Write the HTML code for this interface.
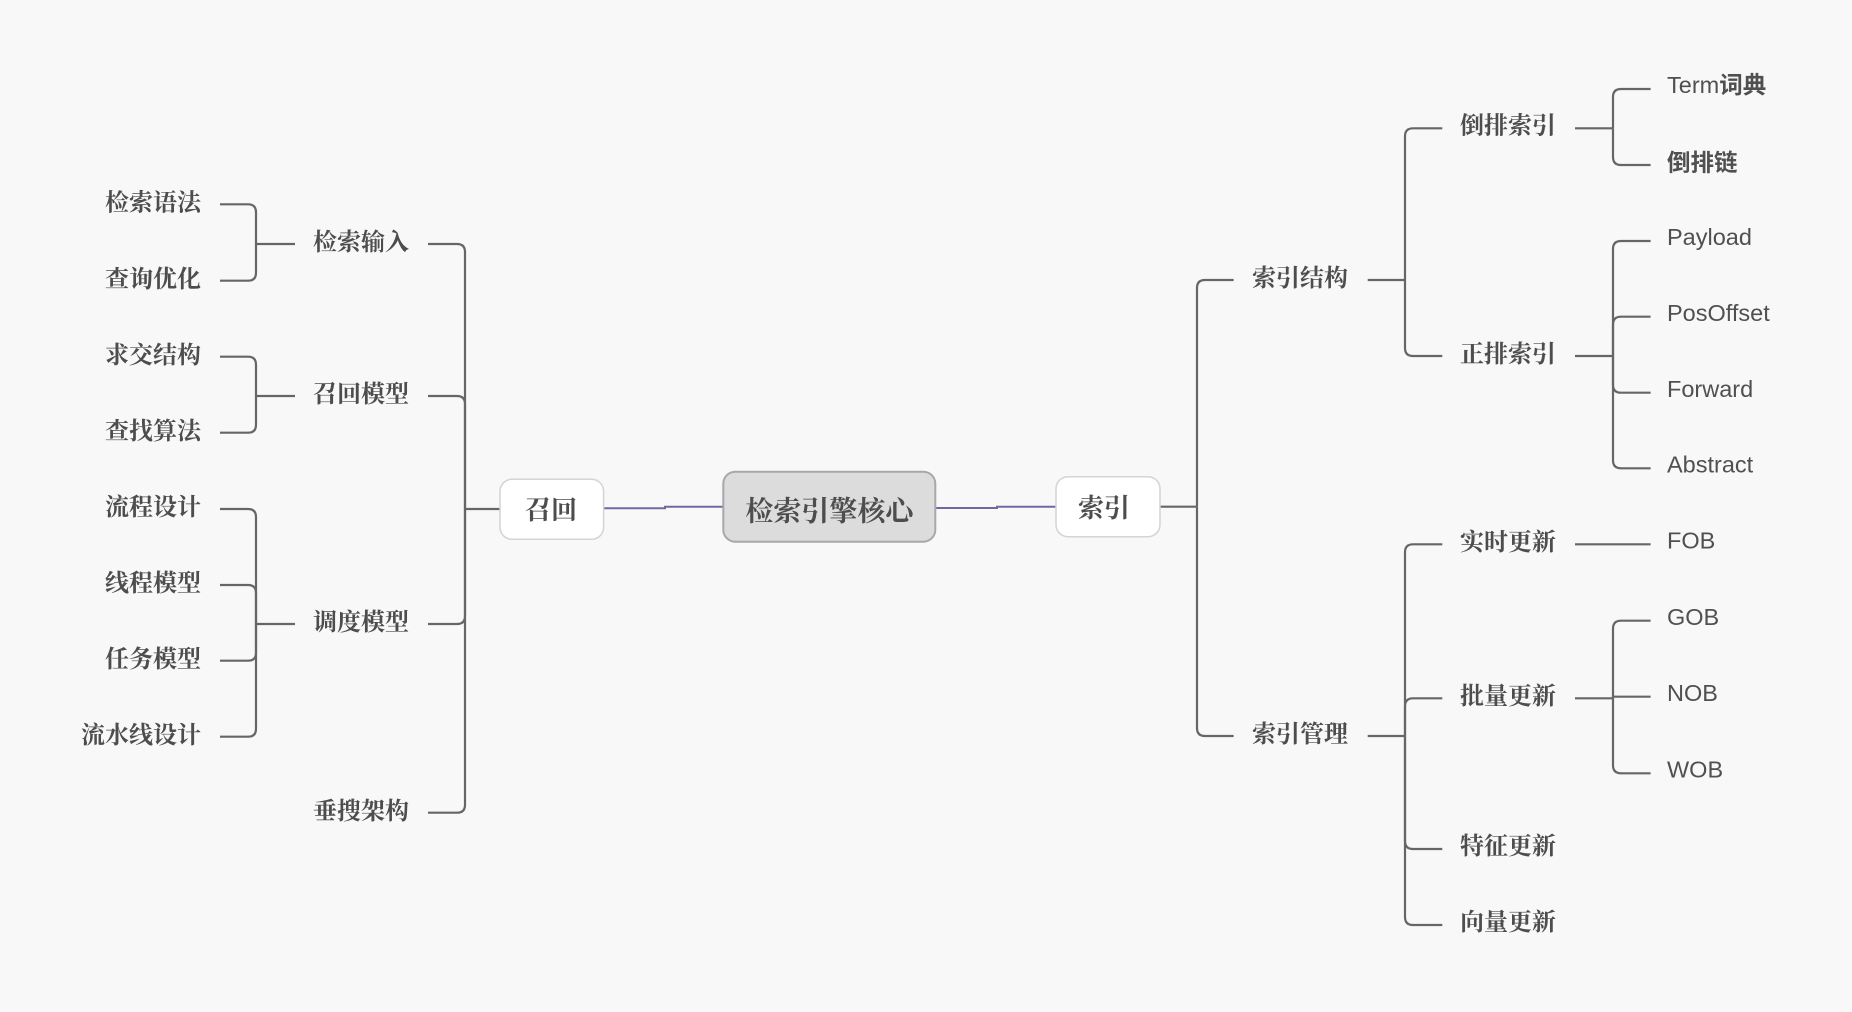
<!DOCTYPE html>
<html>
<head>
<meta charset="utf-8">
<style>
  html,body{margin:0;padding:0;background:#f8f8f8;}
  svg{display:block;}
  .ln{fill:none;stroke:#666666;stroke-width:2.2;}
  .pl{fill:none;stroke:#6f69a3;stroke-width:2;}
  .cj{font-family:"Liberation Serif","Noto Serif CJK SC",serif;font-weight:700;font-size:24px;fill:#4d4d4d;}
  .lf{font-family:"Liberation Sans","Noto Sans CJK SC",sans-serif;font-weight:400;font-size:23.5px;fill:#505050;}
  .b{font-weight:700;}
</style>
</head>
<body>
<svg width="1852" height="1012" viewBox="0 0 1852 1012" xmlns="http://www.w3.org/2000/svg">
  <rect x="0" y="0" width="1852" height="1012" fill="#f8f8f8"/>

  <!-- ===== Left side connectors ===== -->
  <path class="ln" d="M295 244 H256"/>
  <path class="ln" d="M256 244 V212.3 Q256 204.3 248 204.3 H220"/>
  <path class="ln" d="M256 244 V272.7 Q256 280.7 248 280.7 H220"/>
  <path class="ln" d="M295 396 H256"/>
  <path class="ln" d="M256 396 V364.7 Q256 356.7 248 356.7 H220"/>
  <path class="ln" d="M256 396 V424.7 Q256 432.7 248 432.7 H220"/>
  <path class="ln" d="M295 624 H256"/>
  <path class="ln" d="M256 624 V517 Q256 509 248 509 H220"/>
  <path class="ln" d="M256 624 V593 Q256 585 248 585 H220"/>
  <path class="ln" d="M256 624 V652.7 Q256 660.7 248 660.7 H220"/>
  <path class="ln" d="M256 624 V728.7 Q256 736.7 248 736.7 H220"/>
  <path class="ln" d="M500 509 H465"/>
  <path class="ln" d="M465 509 V252 Q465 244 457 244 H428"/>
  <path class="ln" d="M465 509 V404 Q465 396 457 396 H428"/>
  <path class="ln" d="M465 509 V616 Q465 624 457 624 H428"/>
  <path class="ln" d="M465 509 V804.7 Q465 812.7 457 812.7 H428"/>

  <!-- ===== Right side connectors ===== -->
  <path class="ln" d="M1160 506.7 H1197"/>
  <path class="ln" d="M1197 506.7 V288 Q1197 280 1205 280 H1233.6"/>
  <path class="ln" d="M1197 506.7 V728 Q1197 736 1205 736 H1233.6"/>
  <path class="ln" d="M1367.7 280 H1405"/>
  <path class="ln" d="M1405 280 V136.3 Q1405 128.3 1413 128.3 H1442.3"/>
  <path class="ln" d="M1405 280 V348 Q1405 356 1413 356 H1442.3"/>
  <path class="ln" d="M1575 128.3 H1613"/>
  <path class="ln" d="M1613 128.3 V97 Q1613 89 1621 89 H1650.6"/>
  <path class="ln" d="M1613 128.3 V157 Q1613 165 1621 165 H1650.6"/>
  <path class="ln" d="M1575 356 H1613"/>
  <path class="ln" d="M1613 356 V249 Q1613 241 1621 241 H1650.6"/>
  <path class="ln" d="M1613 356 V324.7 Q1613 316.7 1621 316.7 H1650.6"/>
  <path class="ln" d="M1613 356 V384.7 Q1613 392.7 1621 392.7 H1650.6"/>
  <path class="ln" d="M1613 356 V460.3 Q1613 468.3 1621 468.3 H1650.6"/>
  <path class="ln" d="M1367.7 736 H1405"/>
  <path class="ln" d="M1405 736 V552.3 Q1405 544.3 1413 544.3 H1442.3"/>
  <path class="ln" d="M1405 736 V706.3 Q1405 698.3 1413 698.3 H1442.3"/>
  <path class="ln" d="M1405 736 V841 Q1405 849 1413 849 H1442.3"/>
  <path class="ln" d="M1405 736 V917 Q1405 925 1413 925 H1442.3"/>
  <path class="ln" d="M1575 544.3 H1650.6"/>
  <path class="ln" d="M1575 698.3 H1613"/>
  <path class="ln" d="M1613 698.3 V628.7 Q1613 620.7 1621 620.7 H1650.6"/>
  <path class="ln" d="M1613 698.3 V696.7 H1650.6"/>
  <path class="ln" d="M1613 698.3 V765.3 Q1613 773.3 1621 773.3 H1650.6"/>

  <!-- ===== Purple connectors ===== -->
  <path class="pl" d="M603.6 508.3 H665 V506.7 H723.3"/>
  <path class="pl" d="M935.4 508 H997 V506.7 H1056"/>

  <!-- ===== Nodes ===== -->
  <rect x="500" y="479.3" width="103.6" height="60" rx="12" ry="12" fill="#ffffff" stroke="#d4d4d4" stroke-width="1.5"/>
  <rect x="1056" y="476.7" width="104" height="60" rx="12" ry="12" fill="#ffffff" stroke="#d4d4d4" stroke-width="1.5"/>
  <rect x="723.3" y="471.7" width="212" height="70" rx="12" ry="12" fill="#dcdcdc" stroke="#a8a8a8" stroke-width="2"/>

  <text class="cj" x="551" y="519.2" text-anchor="middle" style="font-size:26px">召回</text>
  <text class="cj" x="1104" y="517.2" text-anchor="middle" style="font-size:26px">索引</text>
  <text class="cj" x="829.4" y="520.6" text-anchor="middle" style="font-size:28px">检索引擎核心</text>

  <!-- ===== Left texts ===== -->
  <text class="cj" x="201" y="210.6" text-anchor="end">检索语法</text>
  <text class="cj" x="201" y="286.8" text-anchor="end">查询优化</text>
  <text class="cj" x="201" y="362.8" text-anchor="end">求交结构</text>
  <text class="cj" x="201" y="438.8" text-anchor="end">查找算法</text>
  <text class="cj" x="201" y="515" text-anchor="end">流程设计</text>
  <text class="cj" x="201" y="591" text-anchor="end">线程模型</text>
  <text class="cj" x="201" y="666.8" text-anchor="end">任务模型</text>
  <text class="cj" x="201" y="742.8" text-anchor="end">流水线设计</text>

  <text class="cj" x="313" y="250">检索输入</text>
  <text class="cj" x="313" y="402">召回模型</text>
  <text class="cj" x="313" y="630">调度模型</text>
  <text class="cj" x="313" y="818.8">垂搜架构</text>

  <!-- ===== Right texts ===== -->
  <text class="cj" x="1252" y="285.8">索引结构</text>
  <text class="cj" x="1252" y="741.8">索引管理</text>

  <text class="cj" x="1460" y="133.6">倒排索引</text>
  <text class="cj" x="1460" y="361.8">正排索引</text>
  <text class="cj" x="1460" y="549.8">实时更新</text>
  <text class="cj" x="1460" y="704">批量更新</text>
  <text class="cj" x="1460" y="854">特征更新</text>
  <text class="cj" x="1460" y="929.8">向量更新</text>

  <text class="lf" x="1667" y="93.2">Term<tspan class="b">词典</tspan></text>
  <text class="lf b" x="1667" y="170.4">倒排链</text>
  <text class="lf" x="1667" y="245.2">Payload</text>
  <text class="lf" x="1667" y="320.9">PosOffset</text>
  <text class="lf" x="1667" y="396.9">Forward</text>
  <text class="lf" x="1667" y="472.5">Abstract</text>
  <text class="lf" x="1667" y="548.5">FOB</text>
  <text class="lf" x="1667" y="624.9">GOB</text>
  <text class="lf" x="1667" y="700.9">NOB</text>
  <text class="lf" x="1667" y="777.5">WOB</text>
</svg>
</body>
</html>
